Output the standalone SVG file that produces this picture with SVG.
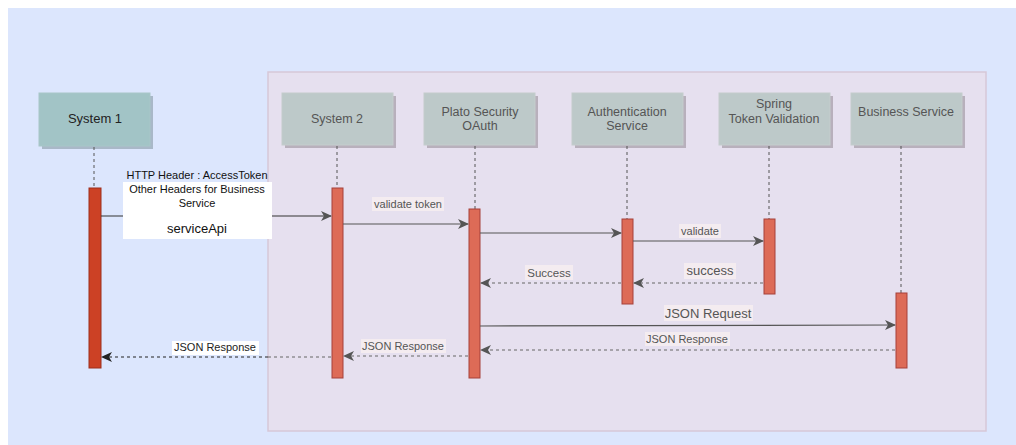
<svg xmlns="http://www.w3.org/2000/svg" width="1016" height="445" viewBox="0 0 1016 445">
<style>
text{font-family:"Liberation Sans",Arial,sans-serif;text-anchor:middle}
.t1{font-size:13px;fill:#222}
.tg{font-size:12.5px;fill:#555}
.sh{fill:#b8b0bc}
.gbox{fill:#bdc9c9;stroke:#c4cccc;stroke-width:1}
.life{stroke:#555;stroke-width:1;stroke-dasharray:3 3;fill:none}
.bar{fill:#dd6b57;stroke:#a5403a;stroke-width:1}
.msg{stroke:#555;stroke-width:1.2;fill:none}
.ret{stroke:#666;stroke-width:1.2;stroke-dasharray:3 3;fill:none}
.lbl{font-size:11px;fill:#555}
.lbg{fill:#f4ecf0}
</style>
<defs>
<marker id="ah" markerWidth="12" markerHeight="10" refX="10" refY="5" orient="auto" markerUnits="userSpaceOnUse">
<path d="M0,0 L11,5 L0,10 L3,5 Z" fill="#555"/>
</marker>
<marker id="ahd" markerWidth="12" markerHeight="10" refX="10" refY="5" orient="auto" markerUnits="userSpaceOnUse">
<path d="M0,0 L11,5 L0,10 L3,5 Z" fill="#222"/>
</marker>
</defs>
<rect x="0" y="0" width="1016" height="445" fill="#ffffff"/>
<rect x="8" y="8" width="1008" height="437" fill="#dce6fd"/>
<rect id="region" x="268" y="72" width="718" height="359" fill="#e6e0ef" stroke="#d6c8d8" stroke-width="1.5"/>

<g id="system1">
<rect x="42" y="96" width="111" height="53" fill="#a9b8c8"/>
<rect x="39" y="93" width="111" height="53" fill="#a2c4c6" stroke="#a8c6c8"/>
<text class="t1" x="95" y="123">System 1</text>
<line class="life" x1="94" y1="147" x2="94" y2="188" stroke="#333"/>
<rect x="89" y="188" width="12" height="180" fill="#cc4125" stroke="#9c2e1c"/>
</g>
<g id="system2">
<rect class="sh" x="285" y="96" width="111" height="52"/>
<rect class="gbox" x="282" y="93" width="111" height="52"/>
<text class="tg" x="337" y="123">System 2</text>
<line class="life" x1="337" y1="146" x2="337" y2="188"/>
<rect class="bar" x="332" y="188" width="11" height="190"/>
</g>
<g id="plato">
<rect class="sh" x="427" y="96" width="111" height="52"/>
<rect class="gbox" x="424" y="93" width="111" height="52"/>
<text class="tg" x="480" y="116">Plato Security</text>
<text class="tg" x="480" y="130">OAuth</text>
<line class="life" x1="475" y1="146" x2="475" y2="209"/>
<rect class="bar" x="469" y="209" width="11" height="169"/>
</g>
<g id="auth">
<rect class="sh" x="575" y="96" width="111" height="52"/>
<rect class="gbox" x="572" y="93" width="111" height="52"/>
<text class="tg" x="627" y="116">Authentication</text>
<text class="tg" x="627" y="130">Service</text>
<line class="life" x1="627" y1="146" x2="627" y2="219"/>
<rect class="bar" x="622" y="219" width="11" height="85"/>
</g>
<g id="spring">
<rect class="sh" x="722" y="96" width="111" height="52"/>
<rect class="gbox" x="719" y="93" width="111" height="52"/>
<text class="tg" x="774" y="108">Spring</text>
<text class="tg" x="774" y="123">Token Validation</text>
<line class="life" x1="769" y1="146" x2="769" y2="219"/>
<rect class="bar" x="764" y="219" width="11" height="75"/>
</g>
<g id="business">
<rect class="sh" x="854" y="96" width="111" height="52"/>
<rect class="gbox" x="851" y="93" width="111" height="52"/>
<text class="tg" x="906" y="116">Business Service</text>
<line class="life" x1="901" y1="146" x2="901" y2="293"/>
<rect class="bar" x="896" y="293" width="11" height="75"/>
</g>

<g id="connectors">
<line x1="101" y1="216" x2="331" y2="216" stroke="#333" stroke-width="1.2" marker-end="url(#ah)"/>
<rect x="123" y="182" width="149" height="57" fill="#ffffff"/>
<text style="font-size:11px;fill:#111" x="197" y="179">HTTP Header : AccessToken</text>
<text style="font-size:11px;fill:#111" x="197" y="193">Other Headers for Business</text>
<text style="font-size:11px;fill:#111" x="197" y="207">Service</text>
<text style="font-size:13px;fill:#111" x="197" y="233">serviceApi</text>

<line class="msg" x1="343" y1="224" x2="468" y2="224" marker-end="url(#ah)"/>
<rect class="lbg" x="372" y="197" width="72" height="14"/>
<text class="lbl" x="408" y="208">validate token</text>

<line class="msg" x1="480" y1="233" x2="621" y2="233" marker-end="url(#ah)"/>

<line class="msg" x1="633" y1="241" x2="763" y2="241" marker-end="url(#ah)"/>
<rect class="lbg" x="679" y="224" width="42" height="14"/>
<text class="lbl" x="700" y="235">validate</text>

<line class="ret" x1="763" y1="283" x2="634" y2="283" marker-end="url(#ah)"/>
<rect class="lbg" x="684" y="263" width="52" height="16"/>
<text style="font-size:13px;fill:#555" x="710" y="275">success</text>

<line class="ret" x1="621" y1="283" x2="481" y2="283" marker-end="url(#ah)"/>
<rect class="lbg" x="525" y="265" width="48" height="15"/>
<text style="font-size:11.5px;fill:#555" x="549" y="277">Success</text>

<line class="msg" x1="480" y1="326" x2="895" y2="325" marker-end="url(#ah)"/>
<rect class="lbg" x="664" y="305" width="89" height="16"/>
<text style="font-size:13px;fill:#555" x="708" y="318">JSON Request</text>

<line class="ret" x1="895" y1="350" x2="481" y2="350" marker-end="url(#ah)"/>
<rect class="lbg" x="645" y="332" width="85" height="14"/>
<text class="lbl" x="687" y="343">JSON Response</text>

<line class="ret" x1="468" y1="356" x2="344" y2="356" marker-end="url(#ah)"/>
<rect class="lbg" x="361" y="339" width="85" height="14"/>
<text class="lbl" x="403" y="350">JSON Response</text>

<line x1="268" y1="357" x2="331" y2="357" stroke="#666" stroke-width="1.2" stroke-dasharray="3 3"/>
<line x1="268" y1="357" x2="102" y2="357" stroke="#222" stroke-width="1.2" stroke-dasharray="3 3" marker-end="url(#ahd)"/>
<rect x="172" y="341" width="87" height="14" fill="#ffffff"/>
<text style="font-size:11px;fill:#222" x="215" y="351">JSON Response</text>
</g>
</svg>
